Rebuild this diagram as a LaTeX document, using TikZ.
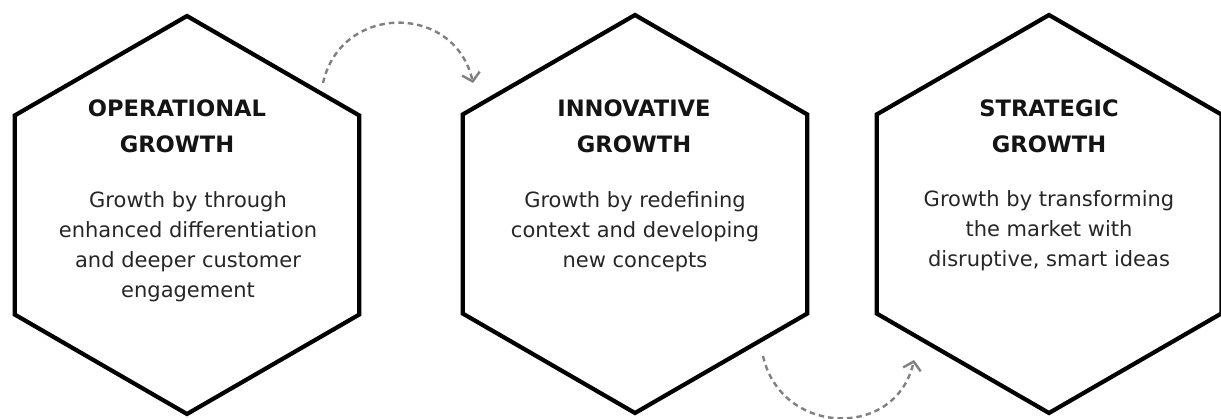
\documentclass[tikz,border=0pt]{standalone}
\usepackage{fontspec}
\setmainfont{DejaVu Sans}
\usetikzlibrary{shapes.geometric,arrows.meta}

\tikzset{
  hexagon/.style={draw=black, line width=4.2pt, regular polygon, regular polygon sides=6,
    regular polygon rotate=30, minimum size=398pt, inner sep=0pt},
  headline/.style={anchor=north, align=center, inner sep=0pt,
    font=\fontsize{22.6}{36}\selectfont\bfseries, text=black!92},
  bodytext/.style={anchor=north, align=center, inner sep=0pt,
    font=\fontsize{21}{30}\selectfont, text=black!85},
  flow/.style={draw=black!50, line width=2.4pt, dash pattern=on 5.5pt off 4pt,
    -{Straight Barb[length=8pt, width=18pt]}}
}

\begin{document}
\begin{tikzpicture}[x=1pt, y=-1pt]
  \useasboundingbox (0,0) rectangle (1221,419);

  % three hexagonal panels
  \node[hexagon] (h1) at (187,215) {};
  \node[hexagon] (h2) at (635,214) {};
  \node[hexagon] (h3) at (1049,214) {};

  % headings
  \node[headline] (t1) at (177,100) {OPERATIONAL\\GROWTH};
  \node[headline] (t2) at (634,100) {INNOVATIVE\\GROWTH};
  \node[headline] (t3) at (1049,100) {STRATEGIC\\GROWTH};

  % descriptions
  \node[bodytext] (b1) at (188,191) {Growth by through\\enhanced differentiation\\and deeper customer\\engagement};
  \node[bodytext] (b2) at (635,191) {Growth by redefining\\context and developing\\new concepts};
  \node[bodytext] (b3) at (1049,190) {Growth by transforming\\the market with\\disruptive, smart ideas};

  % arc end points around the panels
  \coordinate (a1s) at ([shift={(136,-132)}]h1.center);
  \coordinate (a1e) at ([shift={(-162,-131)}]h2.center);
  \coordinate (a2s) at ([shift={(128,142)}]h2.center);
  \coordinate (a2e) at ([shift={(-135,146)}]h3.center);

  % dashed connecting arcs
  \draw[flow] (a1s) .. controls +(18,-80) and +(-18,-80) .. (a1e);
  \draw[flow] (a2s) .. controls +(18,80) and +(-18,80) .. (a2e);
\end{tikzpicture}
\end{document}
